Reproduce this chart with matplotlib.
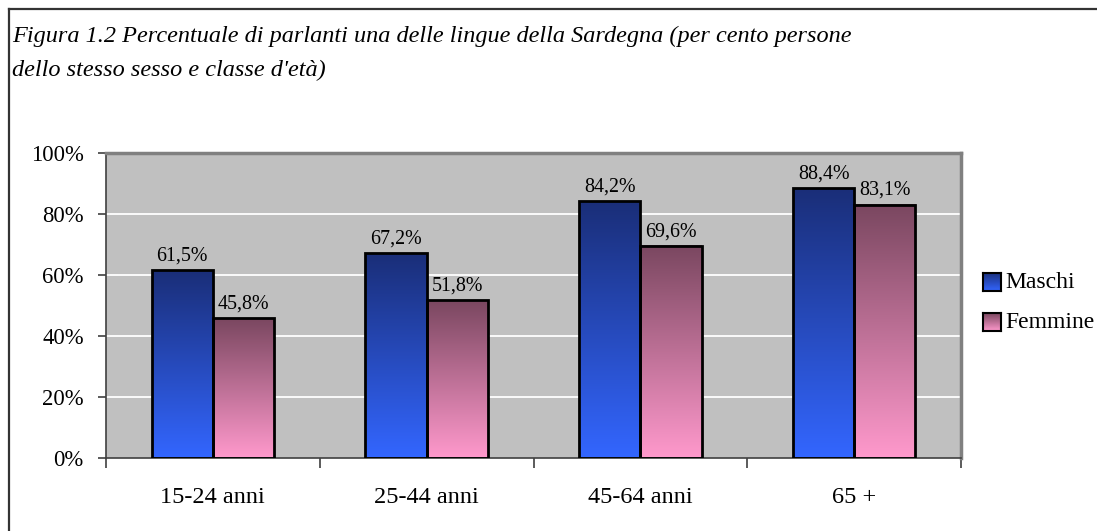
import numpy as np
import matplotlib
matplotlib.use("Agg")
import matplotlib.pyplot as plt
from matplotlib.colors import LinearSegmentedColormap
from matplotlib.lines import Line2D

categories = ["15-24 anni", "25-44 anni", "45-64 anni", "65 +"]
maschi = [61.5, 67.2, 84.2, 88.4]
femmine = [45.8, 51.8, 69.6, 83.1]
series_names = ["Maschi", "Femmine"]
yticks = [0, 20, 40, 60, 80, 100]

W, H = 1097, 531
plt.rcParams['font.family'] = ['Liberation Serif', 'DejaVu Serif']
fig = plt.figure(figsize=(W / 100, H / 100), dpi=100)

# outer frame (only top and left visible in the picture)
fig.add_artist(Line2D([9 / W, 9 / W], [0, 1 - 9 / H], color='#333333', lw=1.6))
fig.add_artist(Line2D([9 / W, 1], [1 - 9 / H, 1 - 9 / H], color='#333333', lw=1.6))

fig.text(12 / W, 1 - 42 / H,
         "Figura 1.2 Percentuale di parlanti una delle lingue della Sardegna (per cento persone",
         fontsize=17.5, style='italic', va='baseline', ha='left')
fig.text(12 / W, 1 - 76 / H, "dello stesso sesso e classe d'età)",
         fontsize=17.5, style='italic', va='baseline', ha='left')

ax = fig.add_axes([106 / W, 1 - 458 / H, (961 - 106) / W, (458 - 153) / H])
ax.set_facecolor('#c0c0c0')

blue = LinearSegmentedColormap.from_list('b', ['#3366ff', '#1a2e78'])
pink = LinearSegmentedColormap.from_list('p', ['#ff99cc', '#7a4760'])
grad = np.linspace(0, 1, 256).reshape(-1, 1)

bw = 0.286
x = np.arange(len(categories))
for vals, off, cmap in [(maschi, -bw, blue), (femmine, 0, pink)]:
    for xi, v in zip(x, vals):
        ax.imshow(grad, extent=[xi + off, xi + off + bw, 0, v], origin='lower',
                  aspect='auto', cmap=cmap, zorder=2)
        ax.text(xi + off + bw / 2, v + 1.5, f"{v:.1f}%".replace('.', ','),
                ha='center', va='bottom', fontsize=14.4, zorder=4)
    ax.bar(x + off, vals, width=bw, align='edge', facecolor='none',
           edgecolor='black', linewidth=2, zorder=3)

ax.set_xlim(-0.5, len(categories) - 0.5)
ax.set_ylim(0, 100)
for g in yticks[1:-1]:
    ax.axhline(g, color='white', lw=1.3, zorder=1)

ax.set_yticks(yticks)
ax.set_yticklabels([f"{t}%" for t in yticks], fontsize=16.3)
ax.tick_params(axis='y', length=6, width=1.2, color='#404040', pad=10)
ax.set_xticks(np.arange(len(categories) + 1) - 0.5)
ax.set_xticklabels([])
ax.set_xticks(x, minor=True)
ax.set_xticklabels(categories, minor=True, fontsize=17.5)
ax.tick_params(axis='x', which='major', length=7, width=1.2, color='#404040')
ax.tick_params(axis='x', which='minor', length=0, pad=21)

for s in ['top', 'right']:
    ax.spines[s].set_color('#808080')
    ax.spines[s].set_linewidth(2.5)
for s in ['left', 'bottom']:
    ax.spines[s].set_color('#404040')
    ax.spines[s].set_linewidth(1.2)

# legend drawn by hand so the swatches keep the gradient
for i, (name, cmap) in enumerate(zip(series_names, [blue, pink])):
    yc = 282 + 40 * i
    sw = fig.add_axes([983 / W, 1 - (yc + 9) / H, 18 / W, 18 / H])
    sw.imshow(grad, cmap=cmap, origin='lower', aspect='auto')
    sw.set_xticks([])
    sw.set_yticks([])
    for sp in sw.spines.values():
        sp.set_linewidth(1.5)
        sp.set_color('black')
    fig.text(1005 / W, 1 - yc / H, name, fontsize=17, va='center', ha='left')

fig.savefig('out.png', dpi=100)
